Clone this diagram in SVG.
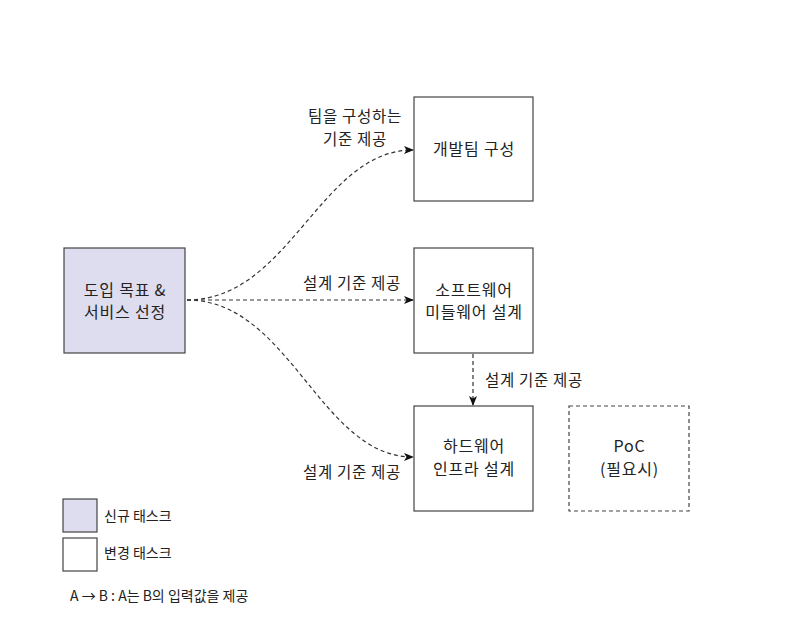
<svg xmlns="http://www.w3.org/2000/svg" width="800" height="618" viewBox="0 0 800 618">
<style>
.box{fill:#fff;stroke:#444;stroke-width:1.2}
.new{fill:#dedcef;stroke:#444;stroke-width:1.2}
.dash{fill:#fff;stroke:#444;stroke-width:1.2;stroke-dasharray:4,3}
.t{font-family:"Noto Sans CJK KR","Noto Sans",sans-serif;font-size:16px;letter-spacing:0.8px;fill:#222;text-anchor:middle}
.l{font-family:"Noto Sans CJK KR","Noto Sans",sans-serif;font-size:15.5px;letter-spacing:0.7px;fill:#222;text-anchor:middle}
.s{font-family:"Noto Sans CJK KR","Noto Sans",sans-serif;font-size:14px;fill:#222}
.c{fill:none;stroke:#333;stroke-width:1.2;stroke-dasharray:4,3}
</style>
<defs>
<marker id="ah" markerWidth="10" markerHeight="8" refX="9" refY="4" orient="auto" markerUnits="userSpaceOnUse">
<path d="M0,0 L10,4 L0,8 L2.5,4 Z" fill="#111"/>
</marker>
</defs>
<rect width="800" height="618" fill="#fff"/>
<g id="connectors">
<path class="c" d="M187,300 C290,300 320,150 413,150" marker-end="url(#ah)"/>
<path class="c" d="M187,300 L413,300" marker-end="url(#ah)"/>
<path class="c" d="M187,300 C290,300 320,457 413,457" marker-end="url(#ah)"/>
<path class="c" d="M473,354 L473,405" marker-end="url(#ah)"/>
<text class="l" x="355" y="122">팀을 구성하는</text>
<text class="l" x="355" y="145">기준 제공</text>
<text class="l" x="352" y="289">설계 기준 제공</text>
<text class="l" x="534" y="386">설계 기준 제공</text>
<text class="l" x="352" y="478">설계 기준 제공</text>
</g>
<g id="node-main">
<rect class="new" x="64" y="248" width="121" height="105"/>
<text class="t" x="125" y="296">도입 목표 &amp;</text>
<text class="t" x="125" y="318">서비스 선정</text>
</g>
<g id="node-team">
<rect class="box" x="414" y="97" width="119" height="104"/>
<text class="t" x="474" y="155">개발팀 구성</text>
</g>
<g id="node-sw">
<rect class="box" x="414" y="248" width="119" height="105"/>
<text class="t" x="474" y="296">소프트웨어</text>
<text class="t" x="474" y="318">미들웨어 설계</text>
</g>
<g id="node-hw">
<rect class="box" x="414" y="406" width="119" height="105"/>
<text class="t" x="474" y="452">하드웨어</text>
<text class="t" x="474" y="475">인프라 설계</text>
</g>
<g id="node-poc">
<rect class="dash" x="569" y="406" width="120" height="105"/>
<text class="t" x="629.5" y="452">PoC</text>
<text class="t" x="629.5" y="475">(필요시)</text>
</g>
<g id="legend">
<rect class="new" x="63" y="499" width="34" height="33"/>
<text class="s" x="104" y="521">신규 태스크</text>
<rect class="box" x="63" y="538" width="34" height="33"/>
<text class="s" x="104" y="558">변경 태스크</text>
<text class="s" x="70" y="601">A → B : A는 B의 입력값을 제공</text>
</g>
</svg>
